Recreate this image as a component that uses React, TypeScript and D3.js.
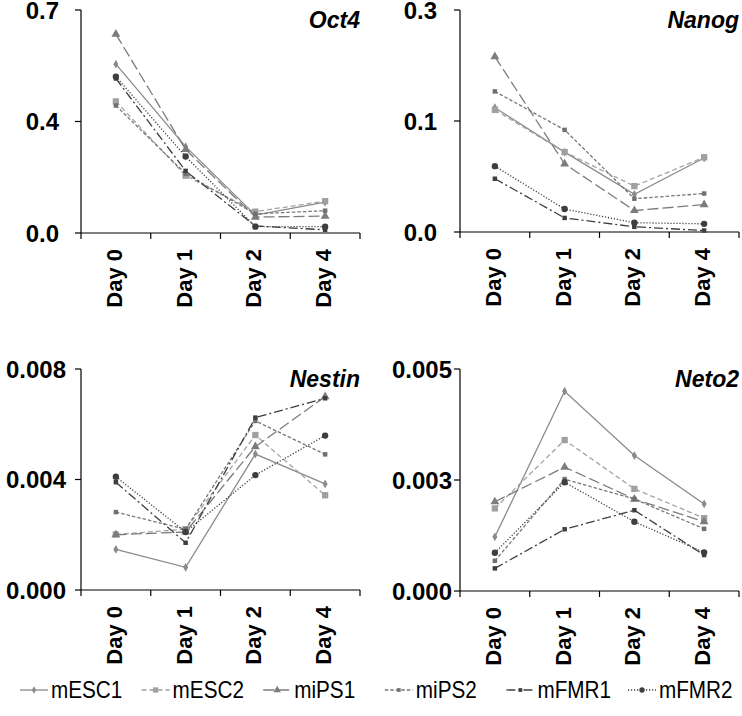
import React from "react";
import * as d3 from "d3";

const days = ["Day 0", "Day 1", "Day 2", "Day 4"];
const seriesNames = ["mESC1", "mESC2", "miPS1", "miPS2", "mFMR1", "mFMR2"];

// Oct4
const oct4_mESC1 = [0.53, 0.271, 0.056, 0.097];
const oct4_mESC2 = [0.413, 0.18, 0.067, 0.1];
const oct4_miPS1 = [0.624, 0.262, 0.05, 0.053];
const oct4_miPS2 = [0.4, 0.186, 0.06, 0.07];
const oct4_mFMR1 = [0.485, 0.195, 0.022, 0.01];
const oct4_mFMR2 = [0.491, 0.24, 0.02, 0.02];

// Nanog
const nanog_mESC1 = [0.168, 0.108, 0.051, 0.1];
const nanog_mESC2 = [0.165, 0.108, 0.062, 0.101];
const nanog_miPS1 = [0.237, 0.092, 0.029, 0.037];
const nanog_miPS2 = [0.19, 0.138, 0.045, 0.052];
const nanog_mFMR1 = [0.072, 0.019, 0.007, 0.002];
const nanog_mFMR2 = [0.089, 0.031, 0.0126, 0.011];

// Nestin
const nestin_mESC1 = [0.00147, 0.00082, 0.00492, 0.00384];
const nestin_mESC2 = [0.00201, 0.0022, 0.00561, 0.00343];
const nestin_miPS1 = [0.002, 0.0021, 0.00519, 0.007];
const nestin_miPS2 = [0.00282, 0.0022, 0.00612, 0.00491];
const nestin_mFMR1 = [0.0039, 0.00171, 0.00624, 0.00694];
const nestin_mFMR2 = [0.0041, 0.0021, 0.00416, 0.00559];

// Neto2
const neto2_mESC1 = [0.00122, 0.0045, 0.00305, 0.00196];
const neto2_mESC2 = [0.00186, 0.0034, 0.0023, 0.00164];
const neto2_miPS1 = [0.00201, 0.00279, 0.00207, 0.00156];
const neto2_miPS2 = [0.00068, 0.00252, 0.00207, 0.0014];
const neto2_mFMR1 = [0.00051, 0.00139, 0.00182, 0.00081];
const neto2_mFMR2 = [0.00086, 0.00245, 0.00156, 0.00087];

const oct4Max = 0.7;
const nanogMax = 0.3;
const nestinMax = 0.008;
const neto2Max = 0.005;
const oct4TickLabels = ["0.0", "0.4", "0.7"];
const nanogTickLabels = ["0.0", "0.1", "0.3"];
const nestinTickLabels = ["0.000", "0.004", "0.008"];
const neto2TickLabels = ["0.000", "0.003", "0.005"];

const styles: Record<string, { color: string; dash: string; sym: any; size: number; mcolor: string }> = {
  mESC1: { color: "#8a8a8a", dash: "none", sym: d3.symbolDiamond, size: 22, mcolor: "#8a8a8a" },
  mESC2: { color: "#a3a3a3", dash: "5,3", sym: d3.symbolSquare, size: 40, mcolor: "#a0a0a0" },
  miPS1: { color: "#7c7c7c", dash: "11,4", sym: d3.symbolTriangle, size: 34, mcolor: "#7c7c7c" },
  miPS2: { color: "#787878", dash: "3.5,2", sym: d3.symbolSquare, size: 20, mcolor: "#707070" },
  mFMR1: { color: "#3e3e3e", dash: "9,3,2,3", sym: d3.symbolSquare, size: 20, mcolor: "#3e3e3e" },
  mFMR2: { color: "#3e3e3e", dash: "1.2,1.8", sym: d3.symbolCircle, size: 32, mcolor: "#3e3e3e" },
};

const panels = [
  { title: "Oct4", max: oct4Max, labels: oct4TickLabels, x0: 81, x1: 360, y0: 233, y1: 10, gap: 22,
    data: [oct4_mESC1, oct4_mESC2, oct4_miPS1, oct4_miPS2, oct4_mFMR1, oct4_mFMR2] },
  { title: "Nanog", max: nanogMax, labels: nanogTickLabels, x0: 460, x1: 739, y0: 232, y1: 10, gap: 23,
    data: [nanog_mESC1, nanog_mESC2, nanog_miPS1, nanog_miPS2, nanog_mFMR1, nanog_mFMR2] },
  { title: "Nestin", max: nestinMax, labels: nestinTickLabels, x0: 81, x1: 360, y0: 590, y1: 369, gap: 15,
    data: [nestin_mESC1, nestin_mESC2, nestin_miPS1, nestin_miPS2, nestin_mFMR1, nestin_mFMR2] },
  { title: "Neto2", max: neto2Max, labels: neto2TickLabels, x0: 460, x1: 739, y0: 591, y1: 369, gap: 8,
    data: [neto2_mESC1, neto2_mESC2, neto2_miPS1, neto2_miPS2, neto2_mFMR1, neto2_mFMR2] },
];

const FONT = "Liberation Sans, Arial, sans-serif";

function Panel({ p }: { p: typeof panels[0] }) {
  const x = d3.scaleBand<string>().domain(days).range([p.x0, p.x1]);
  const y = d3.scaleLinear().domain([0, p.max]).range([p.y0, p.y1]);
  const ticks = [0, p.max / 2, p.max];
  const bounds = days.map((d) => x(d)!).concat([p.x1]);
  return (
    <g>
      <line x1={p.x0} x2={p.x0} y1={p.y1} y2={p.y0} stroke="#000" strokeWidth={1.2} />
      <line x1={p.x0} x2={p.x1} y1={p.y0} y2={p.y0} stroke="#000" strokeWidth={1.2} />
      {ticks.map((t, i) => (
        <g key={i}>
          <line x1={p.x0 - 6} x2={p.x0} y1={y(t)} y2={y(t)} stroke="#000" strokeWidth={1.2} />
          <text x={p.x0 - p.gap} y={y(t)} dy="0.36em" textAnchor="end" fontFamily={FONT}
            fontWeight="bold" fontSize={24}>{p.labels[i]}</text>
        </g>
      ))}
      {bounds.map((b, i) => (
        <line key={i} x1={b} x2={b} y1={p.y0} y2={p.y0 + 6} stroke="#000" strokeWidth={1.2} />
      ))}
      {days.map((d) => {
        const cx = x(d)! + x.bandwidth() / 2;
        const ty = p.y0 + 16;
        return (
          <text key={d} transform={`translate(${cx + 6},${ty}) rotate(-90)`} textAnchor="end"
            fontFamily={FONT} fontWeight="bold" fontSize={22}>{d}</text>
        );
      })}
      <text x={p.x1} y={p.y1 + 18} textAnchor="end" fontFamily={FONT} fontWeight="bold"
        fontStyle="italic" fontSize={23}>{p.title}</text>
      {seriesNames.map((name, si) => {
        const st = styles[name];
        const vals = p.data[si];
        const line = d3.line<number>()
          .x((_, i) => x(days[i])! + x.bandwidth() / 2)
          .y((v) => y(v));
        return (
          <g key={name}>
            <path d={line(vals) || ""} fill="none" stroke={st.color} strokeWidth={1.3}
              strokeDasharray={st.dash} />
            {vals.map((v, i) => (
              <path key={i} d={d3.symbol().type(st.sym).size(st.size)() || ""}
                transform={`translate(${x(days[i])! + x.bandwidth() / 2},${y(v)})`}
                fill={st.mcolor} />
            ))}
          </g>
        );
      })}
    </g>
  );
}

function Legend() {
  const lx = d3.scalePoint<string>().domain(seriesNames).range([20, 628]);
  const ly = 690;
  return (
    <g>
      {seriesNames.map((name) => {
        const st = styles[name];
        const x0 = lx(name)!;
        return (
          <g key={name}>
            <line x1={x0} x2={x0 + 28} y1={ly} y2={ly} stroke={st.color} strokeWidth={1.3}
              strokeDasharray={st.dash === "none" ? undefined : st.dash} />
            <path d={d3.symbol().type(st.sym).size(st.size * 0.7)() || ""}
              transform={`translate(${x0 + 14},${ly})`} fill={st.mcolor} />
            <text x={x0 + 31} y={ly} dy="0.36em" fontFamily={FONT} fontSize={23}
              transform={`translate(${x0 + 31},0) scale(0.9,1) translate(${-(x0 + 31)},0)`}>{name}</text>
          </g>
        );
      })}
    </g>
  );
}

export default function App() {
  return (
    <svg width={742} height={716} style={{ position: "absolute", left: 0, top: 0, background: "#fff" }}>
      <rect width={742} height={716} fill="#fff" />
      {panels.map((p) => (
        <Panel key={p.title} p={p} />
      ))}
      <Legend />
    </svg>
  );
}
